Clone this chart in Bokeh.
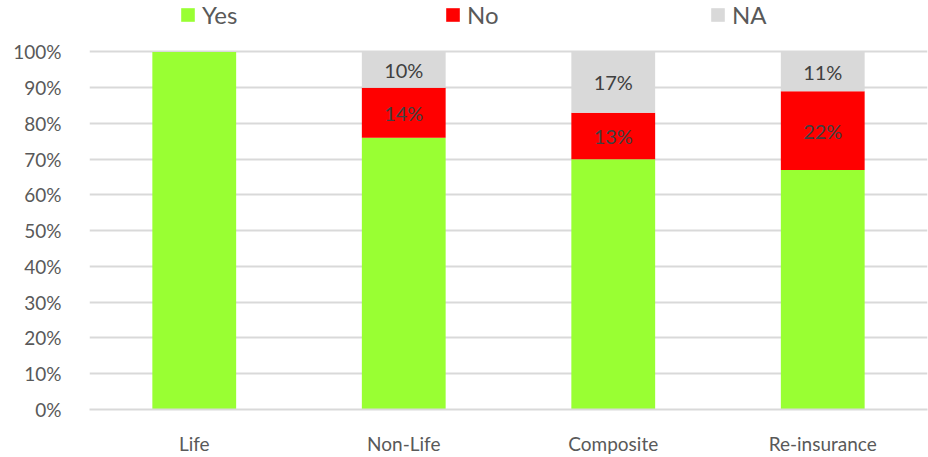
from bokeh.plotting import figure
from bokeh.models import (ColumnDataSource, FactorRange, Range1d, Legend, LegendItem,
                          NumeralTickFormatter, FixedTicker, LabelSet)
from bokeh.core.properties import value
from bokeh.embed import file_html
from bokeh.resources import INLINE

# Share of answers per insurer type
categories = ["Life", "Non-Life", "Composite", "Re-insurance"]
yes = [1.00, 0.76, 0.70, 0.67]
no = [0.00, 0.14, 0.13, 0.22]
na = [0.00, 0.10, 0.17, 0.11]
series = ["Yes", "No", "NA"]
colors = ["#99FF33", "#FF0000", "#D9D9D9"]
y_ticks = [i / 10 for i in range(11)]

FONT = "Lato"
TEXT = "#595959"
GRID = "#D9D9D9"

source = ColumnDataSource(dict(cat=categories, Yes=yes, No=no, NA=na))

# The y range runs a little past 100% so the legend strip fits inside the frame
p = figure(width=928, height=457, x_range=FactorRange(*categories, range_padding=0),
           y_range=Range1d(0, 1.144), output_backend="svg", toolbar_location=None,
           min_border_left=89, min_border_right=1, min_border_top=0, min_border_bottom=45)
p.outline_line_color = None

renderers = p.vbar_stack(series, x="cat", width=0.4, color=colors, source=source,
                         line_color=None)

# Value labels centred in the No and NA segments
lx, ly, lt = [], [], []
for c, y, n, a in zip(categories, yes, no, na):
    if n > 0:
        lx.append(c); ly.append(y + n / 2); lt.append(f"{round(n * 100)}%")
    if a > 0:
        lx.append(c); ly.append(y + n + a / 2); lt.append(f"{round(a * 100)}%")
labels = ColumnDataSource(dict(x=lx, y=ly, t=lt))
p.add_layout(LabelSet(x="x", y="y", text="t", source=labels, text_align="center",
                      text_baseline="middle", text_font=value(FONT), text_font_size="20px",
                      text_color="#404040"))

# Axes and grid
p.yaxis.ticker = FixedTicker(ticks=y_ticks)
p.yaxis.formatter = NumeralTickFormatter(format="0%")
p.yaxis.axis_line_color = None
p.yaxis.major_tick_line_color = None
p.yaxis.minor_tick_line_color = None
p.yaxis.major_label_standoff = 22
p.yaxis.major_label_text_font = FONT
p.yaxis.major_label_text_font_size = "19px"
p.yaxis.major_label_text_color = TEXT

p.xaxis.axis_line_color = GRID
p.xaxis.axis_line_width = 2
p.xaxis.major_tick_line_color = None
p.xaxis.minor_tick_line_color = None
p.xaxis.major_label_standoff = 16
p.xaxis.major_label_text_font = FONT
p.xaxis.major_label_text_font_size = "19px"
p.xaxis.major_label_text_color = TEXT

p.xgrid.grid_line_color = None
p.ygrid.grid_line_color = GRID
p.ygrid.grid_line_width = 2

# Legend sits in the strip above 100%
legend = Legend(items=[LegendItem(label=s, renderers=[r]) for s, r in zip(series, renderers)],
                orientation="horizontal", location=(90, 380), glyph_width=17, glyph_height=17,
                label_standoff=6, label_width=242, spacing=0, padding=0, margin=0,
                border_line_alpha=0, background_fill_alpha=0,
                label_text_font=FONT, label_text_font_size="24px", label_text_color=TEXT)
p.add_layout(legend, "center")

open("out.html", "w").write(file_html(p, INLINE))
